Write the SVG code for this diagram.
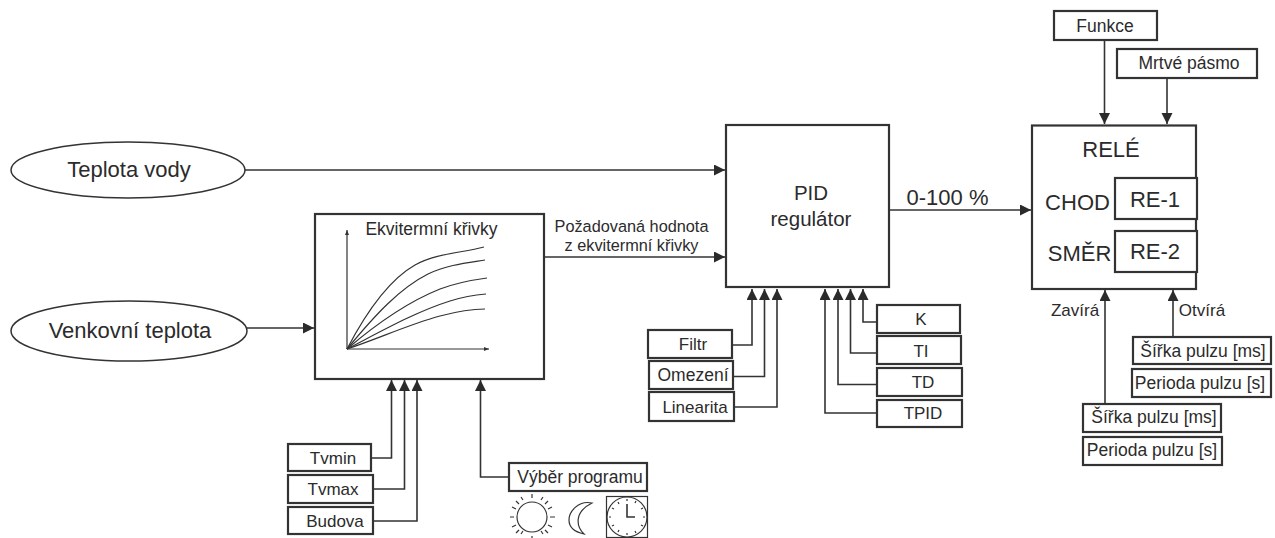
<svg xmlns="http://www.w3.org/2000/svg" width="1275" height="538" viewBox="0 0 1275 538">
<defs>
<style>
text{font-family:"Liberation Sans",Arial,sans-serif;fill:#2b2b2b;text-anchor:middle}
.b{fill:#fff;stroke:#333;stroke-width:2.2}
.e{fill:#fff;stroke:#333;stroke-width:1.5}
.l{fill:none;stroke:#333;stroke-width:1.6}
.c{fill:none;stroke:#333;stroke-width:1.2}
.s{font-size:17.500px}.x{font-size:17px}.p{font-size:16.300px}.m{font-size:22px}.n{font-size:20.500px}
</style>
<marker id="a" markerUnits="userSpaceOnUse" markerWidth="12" markerHeight="12" refX="11" refY="5.500" orient="auto"><path d="M0 0L11 5.500L0 11z" fill="#2b2b2b"/></marker>
<marker id="t" markerUnits="userSpaceOnUse" markerWidth="5" markerHeight="6" refX="5" refY="2" orient="auto"><path d="M0 0L5 2L0 4z" fill="#333"/></marker>
</defs>
<rect width="1275" height="538" fill="#fff"/>
<g id="connectors">
<path class="l" marker-end="url(#a)" d="M245 170H725"/>
<path class="l" marker-end="url(#a)" d="M247 328H314"/>
<path class="l" marker-end="url(#a)" d="M545 257H725"/>
<path class="l" marker-end="url(#a)" d="M889 210H1031"/>
<path class="l" marker-end="url(#a)" d="M371 458H391.500V380"/>
<path class="l" marker-end="url(#a)" d="M373 489H404.500V380"/>
<path class="l" marker-end="url(#a)" d="M373 521H417V380"/>
<path class="l" marker-end="url(#a)" d="M509 477H480.500V380"/>
<path class="l" marker-end="url(#a)" d="M732 345H752V289"/>
<path class="l" marker-end="url(#a)" d="M733 376.500H764.500V289"/>
<path class="l" marker-end="url(#a)" d="M734 407H777V289"/>
<path class="l" marker-end="url(#a)" d="M877 322H863V289"/>
<path class="l" marker-end="url(#a)" d="M877 353H850.500V289"/>
<path class="l" marker-end="url(#a)" d="M877 384.500H838V289"/>
<path class="l" marker-end="url(#a)" d="M877 413H825V289"/>
<path class="l" marker-end="url(#a)" d="M1104.500 40V124"/>
<path class="l" marker-end="url(#a)" d="M1167 78V124"/>
<path class="l" marker-end="url(#a)" d="M1105 404V290"/>
<path class="l" marker-end="url(#a)" d="M1173 336V290"/>
</g>
<g id="teplota-vody"><ellipse class="e" cx="128" cy="170" rx="117" ry="28"/><text class="m" x="129" y="177">Teplota vody</text></g>
<g id="venkovni-teplota"><ellipse class="e" cx="129" cy="331" rx="118" ry="30"/><text class="m" x="130" y="338">Venkovní teplota</text></g>
<g id="ekvitermni-krivky">
<rect class="b" x="315" y="214" width="229" height="165"/>
<text class="s" x="431.500" y="235">Ekvitermní křivky</text>
<path class="c" marker-end="url(#t)" d="M347 349V230"/>
<path class="c" marker-end="url(#t)" d="M347 349H489"/>
<path class="c" d="M347 349C370 305 392 278 415 265C437 253 462 253 484 247"/>
<path class="c" d="M347 349C375 315 400 288 428 274C447 265 466 263 485 260"/>
<path class="c" d="M347 349C375 325 405 303 440 289C456 283 472 280 487 278"/>
<path class="c" d="M347 349C380 332 415 312 450 301C463 297 475 295 486 294"/>
<path class="c" d="M347 349C380 338 410 324 440 316C455 312 470 309 485 309"/>
</g>
<g id="tvmin"><rect class="b" x="288" y="444" width="83" height="27"/><text class="x" x="333" y="464">Tvmin</text></g>
<g id="tvmax"><rect class="b" x="288" y="475" width="85" height="28"/><text class="x" x="333" y="495">Tvmax</text></g>
<g id="budova"><rect class="b" x="288" y="507" width="85" height="27"/><text class="x" x="335" y="527">Budova</text></g>
<g id="vyber-programu">
<rect class="b" x="509" y="463" width="138" height="28"/><text class="s" x="580" y="483">Výběr programu</text>
<circle class="c" cx="532" cy="517" r="15"/>
<path class="c" d="M532 494v4M532 536v2M510 517h4M550 517h5M516 501l3 3M545 530l3 3M548 501l-3 3M519 530l-3 3M521 497l2 3M543 534l-2-3M543 497l-2 3M521 534l2-3M512 507l4 2M552 527l-4-2M552 507l-4 2M512 527l4-2"/>
<path class="c" d="M592 503C578 500 569 512 569 520C569 527 575 532 584 534C576 526 574 512 592 503Z"/>
<rect class="c" x="606.500" y="496.500" width="41" height="41"/>
<circle class="c" cx="627" cy="517" r="20"/>
<path class="l" d="M627 504V517H635"/>
<path class="c" d="M627 499v2M627 533v2M609 517h2M643 517h2M636 501l-1 2M618 532l1-2M643 508l-2 1M612 526l2-1M643 526l-2-1M612 508l2 1M636 533l-1-2M618 502l1 2"/>
</g>
<g id="pozadovana-hodnota"><text class="p" x="631.500" y="232">Požadovaná hodnota</text><text class="p" x="631.500" y="251">z ekvitermní křivky</text></g>
<g id="pid-regulator"><rect class="b" x="726" y="125" width="163" height="162"/><text class="n" x="811" y="200">PID</text><text class="n" x="811" y="226">regulátor</text></g>
<g id="filtr"><rect class="b" x="648" y="330" width="84" height="28"/><text class="x" x="693" y="350">Filtr</text></g>
<g id="omezeni"><rect class="b" x="649" y="361" width="84" height="28"/><text class="s" x="693" y="381">Omezení</text></g>
<g id="linearita"><rect class="b" x="649" y="392" width="85" height="29"/><text class="x" x="695" y="412.500">Linearita</text></g>
<g id="k"><rect class="b" x="877" y="305" width="83" height="28"/><text class="x" x="921" y="325">K</text></g>
<g id="ti"><rect class="b" x="877" y="336" width="84" height="28"/><text class="x" x="921" y="356.500">TI</text></g>
<g id="td"><rect class="b" x="877" y="368" width="85" height="28"/><text class="x" x="923" y="388">TD</text></g>
<g id="tpid"><rect class="b" x="877" y="400" width="85" height="27"/><text class="x" x="923" y="419">TPID</text></g>
<text class="m" x="947.500" y="205">0-100 %</text>
<g id="rele">
<rect class="b" x="1032" y="125.500" width="164" height="163.500"/>
<text class="m" x="1111" y="157">RELÉ</text>
<text class="m" x="1077.500" y="210">CHOD</text>
<text class="m" x="1079.500" y="261">SMĚR</text>
<g id="re-1"><rect class="b" x="1115" y="178" width="82" height="41"/><text class="m" x="1155" y="207">RE-1</text></g>
<g id="re-2"><rect class="b" x="1115" y="231" width="82" height="41"/><text class="m" x="1155" y="259">RE-2</text></g>
</g>
<g id="funkce"><rect class="b" x="1054" y="11" width="103" height="29"/><text class="s" x="1105" y="32">Funkce</text></g>
<g id="mrtve-pasmo"><rect class="b" x="1117" y="49" width="140" height="29"/><text class="s" x="1189" y="69">Mrtvé pásmo</text></g>
<text class="x" x="1075" y="316">Zavírá</text>
<text class="x" x="1202" y="316">Otvírá</text>
<g id="sirka-1"><rect class="b" x="1133" y="337" width="138" height="27"/><text class="s" x="1203" y="357">Šířka pulzu [ms]</text></g>
<g id="perioda-1"><rect class="b" x="1132" y="369" width="139" height="28"/><text class="s" x="1200" y="388.500">Perioda pulzu [s]</text></g>
<g id="sirka-2"><rect class="b" x="1083" y="404" width="138" height="28"/><text class="s" x="1154" y="423">Šířka pulzu [ms]</text></g>
<g id="perioda-2"><rect class="b" x="1083" y="437" width="139" height="28"/><text class="s" x="1152" y="456">Perioda pulzu [s]</text></g>
</svg>
